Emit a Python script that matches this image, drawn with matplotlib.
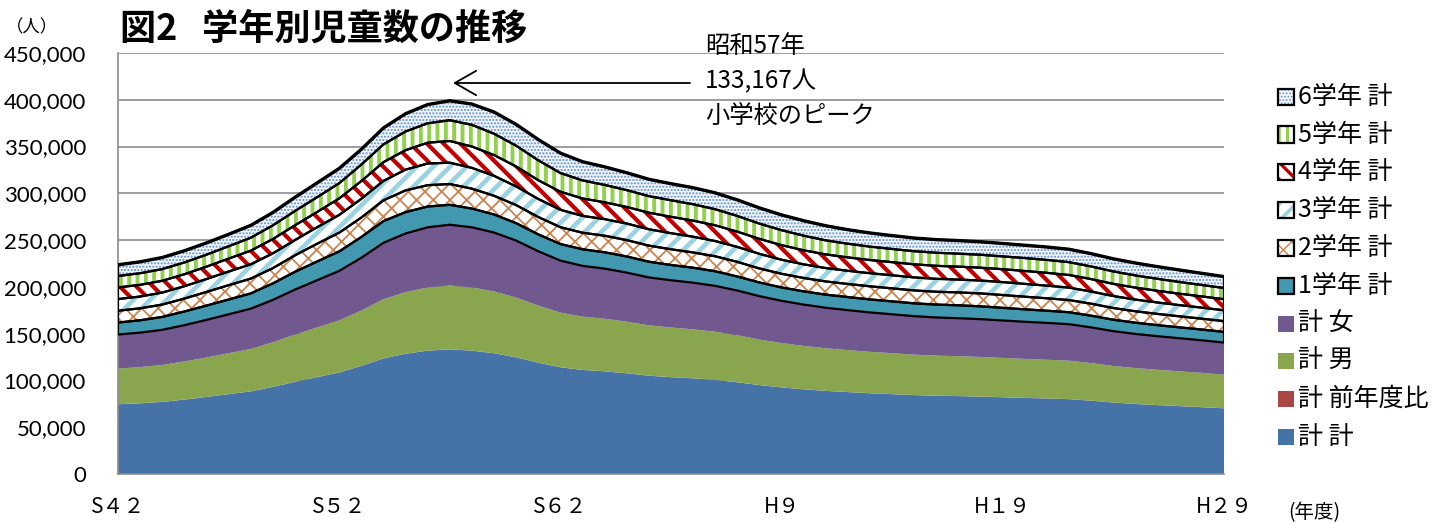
import numpy as np
import matplotlib
matplotlib.use("Agg")
import matplotlib.pyplot as plt
from matplotlib.patches import Rectangle
from matplotlib.ticker import FuncFormatter

plt.rcParams['font.family'] = ['Noto Sans CJK JP', 'DejaVu Sans']

W, H = 1449, 524

# ---- data (S42=1967 ... H29=2017) ----
years = list(range(1967, 2018))
xtick_pos = [1967, 1977, 1987, 1997, 2007, 2017]
xtick_labels = ['S４２', 'S５２', 'S６２', 'H９', 'H１９', 'H２９']

total = [74500, 75500, 77000, 79500, 82300, 85300, 88300, 93000, 98500, 103500,
         108500, 115500, 123500, 128500, 131800, 133167, 131800, 129000, 124700, 119000,
         114000, 111200, 109700, 107600, 105000, 103500, 102200, 100500, 98000, 95000,
         92500, 90500, 88800, 87500, 86300, 85300, 84300, 83600, 83200, 82700,
         82000, 81300, 80700, 80000, 78300, 76300, 74800, 73600, 72500, 71400, 70200]
ratio = [101.6, 101.3, 102.0, 103.2, 103.5, 103.6, 103.5, 105.3, 105.9, 105.1,
         104.8, 106.5, 106.9, 104.0, 102.6, 101.0, 99.0, 97.9, 96.7, 95.4,
         95.8, 97.5, 98.7, 98.1, 97.6, 98.6, 98.7, 98.3, 97.5, 96.9,
         97.4, 97.8, 98.1, 98.5, 98.6, 98.8, 98.8, 99.2, 99.5, 99.4,
         99.2, 99.1, 99.3, 99.1, 97.9, 97.4, 98.0, 98.4, 98.5, 98.5, 98.3]
male = [38100, 38700, 39400, 40700, 42100, 43700, 45200, 47600, 50400, 53000,
        55600, 59100, 63200, 65800, 67500, 68200, 67500, 66000, 63800, 60900,
        58400, 56900, 56200, 55100, 53800, 53000, 52300, 51500, 50200, 48600,
        47400, 46300, 45500, 44800, 44200, 43700, 43200, 42800, 42600, 42300,
        42000, 41600, 41300, 41000, 40100, 39100, 38300, 37700, 37100, 36600, 35900]
female = [36400, 36800, 37600, 38800, 40200, 41600, 43100, 45400, 48100, 50500,
          52900, 56400, 60300, 62700, 64300, 64967, 64300, 63000, 60900, 58100,
          55600, 54300, 53500, 52500, 51200, 50500, 49900, 49000, 47800, 46400,
          45100, 44200, 43300, 42700, 42100, 41600, 41100, 40800, 40600, 40400,
          40000, 39700, 39400, 39000, 38200, 37200, 36500, 35900, 35400, 34800, 34300]
grade1 = [12800, 13200, 13800, 14600, 15300, 15800, 16300, 17600, 19000, 20000,
          20800, 22200, 23200, 22800, 22200, 21300, 20000, 19300, 18600, 18000,
          17700, 17700, 17500, 17200, 16800, 16300, 16000, 15600, 15000, 14600,
          14300, 14100, 14000, 14000, 13900, 13800, 13700, 13800, 13800, 13700,
          13500, 13300, 13000, 12800, 12500, 12200, 12000, 11800, 11600, 11500, 11400]
grade2 = [12600, 12800, 13200, 13800, 14600, 15300, 15800, 16300, 17600, 19000,
          20000, 20800, 22200, 23200, 22800, 22200, 21300, 20000, 19300, 18600,
          18000, 17700, 17700, 17500, 17200, 16800, 16300, 16000, 15600, 15000,
          14600, 14300, 14100, 14000, 14000, 13900, 13800, 13700, 13800, 13800,
          13700, 13500, 13300, 13000, 12800, 12500, 12200, 12000, 11800, 11600, 11500]
grade3 = [12500, 12600, 12800, 13200, 13800, 14600, 15300, 15800, 16300, 17600,
          19000, 20000, 20800, 22200, 23200, 22800, 22200, 21300, 20000, 19300,
          18600, 18000, 17700, 17700, 17500, 17200, 16800, 16300, 16000, 15600,
          15000, 14600, 14300, 14100, 14000, 14000, 13900, 13800, 13700, 13800,
          13800, 13700, 13500, 13300, 13000, 12800, 12500, 12200, 12000, 11800, 11600]
grade4 = [12400, 12500, 12600, 12800, 13200, 13800, 14600, 15300, 15800, 16300,
          17600, 19000, 20000, 20800, 22200, 23200, 22800, 22200, 21300, 20000,
          19300, 18600, 18000, 17700, 17700, 17500, 17200, 16800, 16300, 16000,
          15600, 15000, 14600, 14300, 14100, 14000, 14000, 13900, 13800, 13700,
          13800, 13800, 13700, 13500, 13300, 13000, 12800, 12500, 12200, 12000, 11800]
grade5 = [12200, 12400, 12500, 12600, 12800, 13200, 13800, 14600, 15300, 15800,
          16300, 17600, 19000, 20000, 20800, 22200, 23200, 22800, 22200, 21300,
          20000, 19300, 18600, 18000, 17700, 17700, 17500, 17200, 16800, 16300,
          16000, 15600, 15000, 14600, 14300, 14100, 14000, 14000, 13900, 13800,
          13700, 13800, 13800, 13700, 13500, 13300, 13000, 12800, 12500, 12200, 12000]
grade6 = [12000, 12200, 12400, 12500, 12600, 12800, 13200, 13800, 14600, 15300,
          15800, 16300, 17600, 19000, 20000, 20800, 22200, 23200, 22800, 22200,
          21300, 20000, 19300, 18600, 18000, 17700, 17700, 17500, 17200, 16800,
          16300, 16000, 15600, 15000, 14600, 14300, 14100, 14000, 14000, 13900,
          13800, 13700, 13800, 13800, 13700, 13500, 13300, 13000, 12800, 12500, 12200]

peak_text = ['昭和57年', '133,167人', '小学校のピーク']

# ---- layer styles (bottom -> top) ----
layers = [
    ('計 計', total, dict(fc='#4572A7')),
    ('計 前年度比', ratio, dict(fc='#AA4643')),
    ('計 男', male, dict(fc='#89A54E')),
    ('計 女', female, dict(fc='#71588F')),
    ('1学年 計', grade1, dict(fc='#4198AF', outline=True)),
    ('2学年 計', grade2, dict(fc='white', hatch='xx', hc='#C98452', hlw=1.3, outline=True)),
    ('3学年 計', grade3, dict(fc='white', hatch='//', hc='#9CD3E2', hlw=3.4, outline=True)),
    ('4学年 計', grade4, dict(fc='white', hatch='\\\\', hc='#C00000', hlw=3.0, outline=True)),
    ('5学年 計', grade5, dict(fc='white', hatch='||', hc='#92D050', hlw=2.8, outline=True)),
    ('6学年 計', grade6, dict(fc='#F3F7FC', hatch='.....', hc='#5E8DCF', hlw=1.0, outline=True)),
]

fig = plt.figure(figsize=(W / 100, H / 100), dpi=100)
ax = fig.add_axes([118 / W, 1 - 474 / H, (1224 - 118) / W, (474 - 53) / H])
ax.set_xlim(years[0], years[-1])
ax.set_ylim(0, 450000)

x = np.array(years)
base = np.zeros(len(years))
for i, (name, vals, st) in enumerate(layers):
    top = base + np.array(vals, dtype=float)
    if 'hatch' in st:
        with plt.rc_context({'hatch.linewidth': st['hlw']}):
            ax.fill_between(x, base, top, facecolor=st['fc'], edgecolor=st['hc'],
                            hatch=st['hatch'], linewidth=0, zorder=2 + i * 0.01)
    else:
        ax.fill_between(x, base, top, facecolor=st['fc'], edgecolor='none',
                        linewidth=0, zorder=2 + i * 0.01)
    if st.get('outline'):
        ax.fill_between(x, base, top, facecolor='none', edgecolor='black',
                        linewidth=1.6, zorder=3)
    base = top
ax.plot(x, base, color='black', lw=2.4, zorder=3.1)

# axes styling
for s in ['top', 'right']:
    ax.spines[s].set_visible(False)
for s in ['left', 'bottom']:
    ax.spines[s].set_color('#8C8C8C')
    ax.spines[s].set_linewidth(1.2)
ax.set_axisbelow(True)
ax.yaxis.grid(True, color='#8C8C8C', lw=1.2)
ax.set_yticks(np.arange(0, 450001, 50000))
ax.yaxis.set_major_formatter(FuncFormatter(lambda v, p: f'{int(v):,}'))
ax.tick_params(axis='y', length=0, pad=23, labelsize=16)
for lab in ax.get_yticklabels():
    lab.set_fontfamily(['Lato', 'DejaVu Sans'])
ax.set_xticks(xtick_pos)
ax.set_xticklabels(xtick_labels, fontsize=15)
ax.tick_params(axis='x', length=0, pad=16)

def fx(px):
    return px / W

def fy(py):
    return 1 - py / H

# title and axis unit labels
fig.text(fx(120), fy(29), '図2   学年別児童数の推移', fontsize=26, fontweight='bold',
         va='center', ha='left')
fig.text(fx(6), fy(27), '（人）', fontsize=12.5, va='center', ha='left')
fig.text(fx(1288), fy(513), '(年度)', fontsize=14, va='center', ha='left')

# annotation
for k, t in enumerate(peak_text):
    fig.text(fx(705), fy(46 + 35 * k), t, fontsize=17.5, va='center', ha='left')
ax.annotate('', xy=(fx(453), fy(83)), xycoords='figure fraction',
            xytext=(fx(690), fy(83)), textcoords='figure fraction',
            arrowprops=dict(arrowstyle='->,head_length=0.7,head_width=0.4',
                            lw=1.3, color='black', shrinkA=0, shrinkB=0,
                            mutation_scale=22))

# legend (manual, top to bottom)
for k, (name, vals, st) in enumerate(reversed(layers)):
    yc = 96.7 + 37.8 * k
    sz = 16
    rx, ry = fx(1278), fy(yc + sz / 2)
    if 'hatch' in st:
        with plt.rc_context({'hatch.linewidth': st['hlw'] * 0.8}):
            r = Rectangle((rx, ry), sz / W, sz / H, transform=fig.transFigure,
                          facecolor=st['fc'], edgecolor=st['hc'], hatch=st['hatch'],
                          linewidth=0)
        fig.add_artist(r)
    else:
        fig.add_artist(Rectangle((rx, ry), sz / W, sz / H, transform=fig.transFigure,
                                 facecolor=st['fc'], edgecolor='none', linewidth=0))
    if st.get('outline'):
        fig.add_artist(Rectangle((rx, ry), sz / W, sz / H, transform=fig.transFigure,
                                 facecolor='none', edgecolor='black', linewidth=1.6))
    fig.text(fx(1298), fy(yc), name, fontsize=18, va='center', ha='left')

fig.savefig('out.png', dpi=100)
